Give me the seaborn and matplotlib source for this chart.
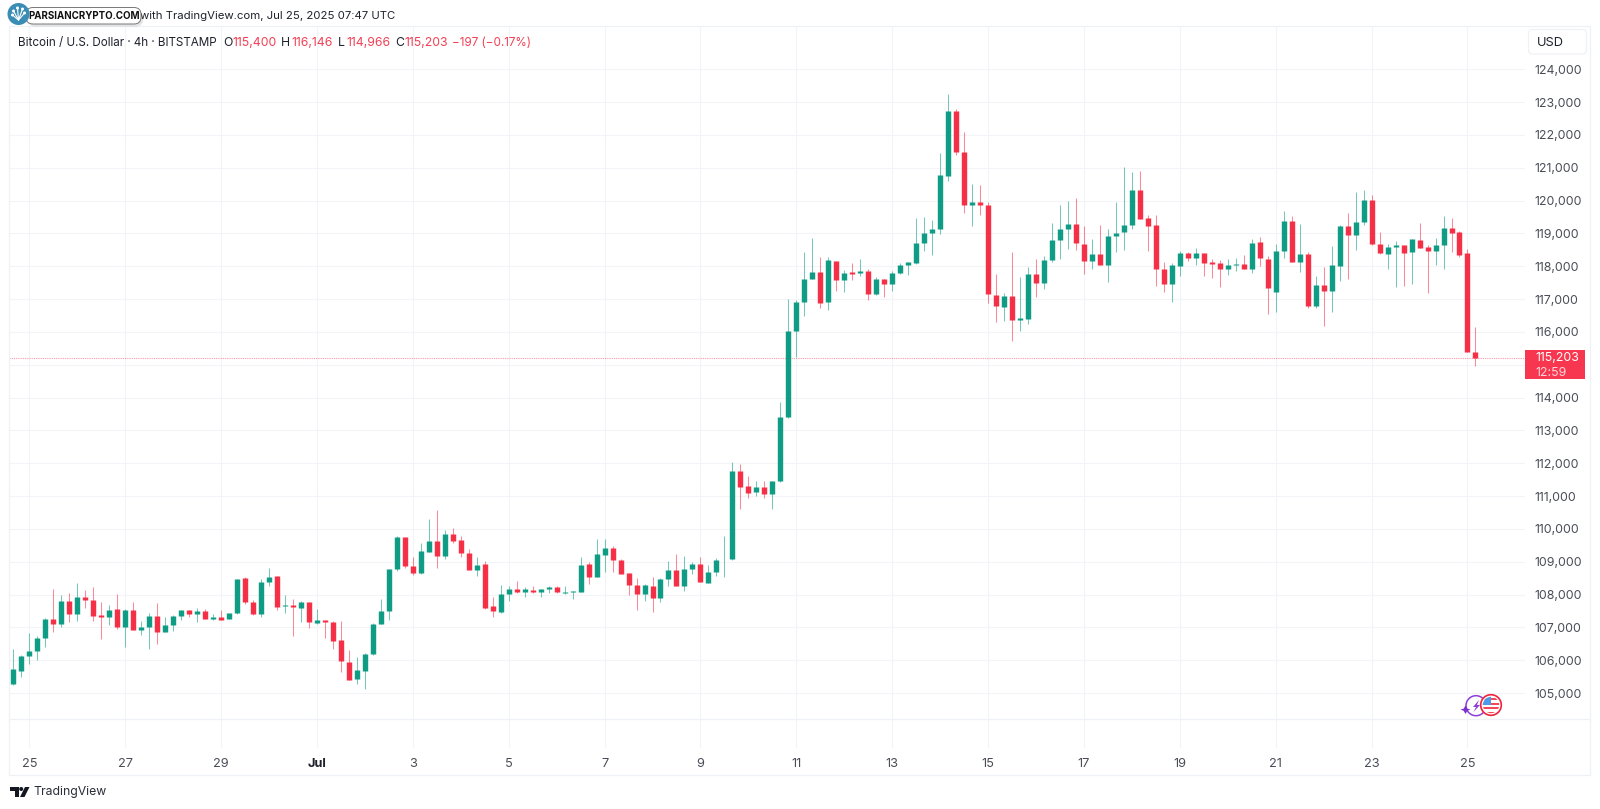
import numpy as np
import pandas as pd
import matplotlib
matplotlib.use("Agg")
import matplotlib.pyplot as plt
import matplotlib.dates as mdates
from matplotlib.patches import Circle, Rectangle, FancyBboxPatch, Polygon, Arc
import seaborn as sns

opens = [105284,105680,106127,106289,106665,107244,107091,107812,107406,107924,
107843,107365,107325,107548,107000,107518,106929,107010,107345,106858,
107081,107345,107518,107406,107487,107264,107325,107244,107426,108503,
107772,107406,108381,108564,107640,107670,107599,107772,107132,107213,
107173,106624,105944,105416,105670,106178,107102,107507,108767,109751,
108858,108645,109305,109630,109163,109853,109650,109274,108756,108929,
107660,107467,108005,108168,108066,108147,108086,108168,108239,108056,
108086,108086,108929,108543,109203,109416,109051,108655,108290,108015,
108269,107893,108472,108757,108259,108777,108939,108350,108686,109071,
109071,111772,111315,111112,111264,111052,111458,113397,116037,116910,
117600,117834,116910,118169,117580,117814,117783,117865,117143,117600,
117468,117794,118037,118098,118717,119002,119134,120758,122728,121489,
119875,119956,119855,117123,116768,117093,116362,116402,117763,117499,
118190,118799,119134,119296,118687,118169,118372,118037,118921,119032,
119266,120322,119458,119245,117905,117448,118017,118413,118250,118392,
118118,118088,117905,118047,118078,117926,118738,118210,117205,118454,
119388,118119,118372,116789,117428,117245,118007,119225,118961,119347,
120007,118677,118383,118596,118647,118444,118799,118575,118464,118636,
119154,119032,118393,115400]
closes = [105741,106127,106289,106665,107244,107091,107812,107406,107924,107843,
107355,107325,107528,107000,107518,106929,107010,107345,106858,107081,
107345,107518,107406,107487,107264,107325,107234,107426,108462,107772,
107416,108371,108523,107619,107670,107619,107772,107162,107223,107173,
106594,105975,105396,105701,106178,107102,107497,108777,109751,108858,
108655,109325,109630,109163,109853,109630,109274,108756,108909,107599,
107498,108015,108178,108076,108157,108086,108157,108239,108066,108076,
108107,108909,108543,109224,109416,109051,108635,108290,108015,108279,
107893,108482,108757,108259,108777,108939,108371,108696,109051,109092,
111762,111274,111102,111274,111051,111458,113417,116027,116910,117600,
117834,116890,118189,117580,117803,117773,117865,117154,117600,117458,
117803,118027,118118,118717,119002,119134,120768,122738,121489,119875,
119956,119875,117154,116788,117093,116362,116423,117763,117499,118190,
118799,119134,119296,118707,118169,118382,118037,118931,119002,119266,
120322,119428,119235,117926,117448,118037,118413,118250,118392,118108,
118067,117905,118047,118078,117926,118717,118250,117347,118454,119388,
118119,118372,116799,117428,117245,118037,119225,118961,119337,120007,
118667,118403,118596,118647,118413,118819,118545,118474,118647,119154,
119022,118332,115387,115203]
highs = [106330,106147,106817,106746,107274,108168,107975,108036,108340,108127,
108218,107761,107680,108015,107548,107761,107203,107426,107731,107305,
107365,107518,107518,107579,107548,107406,107528,107436,108482,108523,
107822,108472,108797,108564,107975,107873,107812,107772,107558,107233,
107193,107193,106310,106107,106208,107122,107863,108787,109792,109751,
109152,109579,110290,110574,109965,110036,109792,109376,109132,109020,
107934,108279,108269,108411,108239,108259,108178,108259,108259,108259,
108117,109132,108990,109701,109701,109467,109071,108655,108503,108310,
108523,108503,109031,109224,109163,109000,109132,108899,109102,109782,
112036,111975,111609,111457,111447,111458,113874,117000,116971,118433,
118849,118270,118270,118169,117885,118098,118220,117905,117661,117600,
117854,118098,118118,119459,119489,119408,121459,123235,122778,122098,
120504,120464,119956,117763,117174,118433,117672,117986,118210,118311,
119306,119865,119987,120078,119215,118819,119256,119124,119946,121012,
120870,120900,119560,119560,118129,118088,118453,118433,118545,118392,
118210,118190,118210,118251,118332,118819,118900,118312,118677,119672,
119530,119286,118433,117692,117976,118616,119245,119621,120251,120312,
120180,119053,118677,118768,118647,118819,119306,118636,118860,119530,
119459,119073,118515,116146]
lows = [105254,105497,105883,106005,106411,106858,107000,107162,107203,107599,
107203,106645,107071,106939,106411,106929,106766,106340,106503,106858,
106878,107223,107315,107152,107264,107213,107234,107244,107406,107711,
107365,107315,108259,107528,107447,106746,107173,106970,107102,106665,
106350,105650,105396,105274,105122,106168,107102,107223,108726,108797,
108594,108625,109305,108807,109071,109579,109152,108736,108574,107569,
107305,107447,107812,108056,107934,108036,107914,108036,108056,108015,
107853,108066,108320,108543,108685,108685,108614,107985,107518,107812,
107467,107762,108259,108259,108117,108625,108371,108350,108564,108523,
109051,110615,110929,110990,110929,110615,111438,113387,115245,116484,
117600,116738,116666,117245,117214,117580,117712,116981,117123,117072,
117255,117763,117733,118067,118453,118331,118981,120606,121377,119631,
119225,119570,116870,116291,116342,115733,116016,116240,117052,117296,
118139,118220,118535,118494,117763,117926,118037,117520,118443,118494,
119144,119428,118474,117398,117225,116920,117702,118159,118037,117712,
117651,117367,117733,117854,117926,117783,118017,116555,116606,118240,
118119,117834,116718,116718,116190,116616,117550,117621,118494,119256,
118636,118372,117905,117378,117398,117459,118545,117195,118037,117916,
118443,118271,115387,114966]

start_time = "2025-06-24 16:00"
price_ticks = list(range(105000, 125000, 1000))
hidden_price_label = 115000
date_ticks = ["2025-06-25","2025-06-27","2025-06-29","2025-07-01","2025-07-03","2025-07-05",
              "2025-07-07","2025-07-09","2025-07-11","2025-07-13","2025-07-15","2025-07-17",
              "2025-07-19","2025-07-21","2025-07-23","2025-07-25"]
date_labels = ["25","27","29","Jul","3","5","7","9","11","13","15","17","19","21","23","25"]
last_price = 115203

UP, DOWN = "#089981", "#F52A42"
GRID = "#F3F4F7"
FRAME = "#EFF1F6"
TICK = "#4A4D57"
DARK = "#1E222D"
RED_TXT = "#F23F55"

sns.set_theme(style="white")
plt.rcParams["font.family"] = ["Inter", "DejaVu Sans"]

W, H = 1600, 809
fig = plt.figure(figsize=(W / 100, H / 100), dpi=100, facecolor="white")
L, R, T, B = 9.0, 1525.0, 26.0, 748.0
ax = fig.add_axes([L / W, 1 - B / H, (R - L) / W, (B - T) / H])

times = pd.date_range(start_time, periods=len(opens), freq="4h")
candles = pd.DataFrame({"time": times, "open": opens, "high": highs, "low": lows, "close": closes})
candles["dir"] = np.where(candles["close"] >= candles["open"], "up", "down")
palette = {"up": UP, "down": DOWN}

wicks = candles.melt(id_vars=["time", "dir"], value_vars=["high", "low"], value_name="price")
bodies = candles.melt(id_vars=["time", "dir"], value_vars=["open", "close"], value_name="price")

sns.lineplot(data=wicks, x="time", y="price", hue="dir", units="time", estimator=None,
             palette=palette, legend=False, ax=ax, linewidth=0.75, alpha=0.55,
             solid_capstyle="butt", zorder=3)
sns.lineplot(data=bodies, x="time", y="price", hue="dir", units="time", estimator=None,
             palette=palette, legend=False, ax=ax, linewidth=3.9, alpha=0.97,
             solid_capstyle="butt", zorder=4)

# axis ranges: px = 13.3 + 7.99 * candle index, py = 693 - (price - 105000) * 0.03283
t0 = mdates.date2num(times[0])
px2t = lambda px: t0 + (px - 13.3) / 7.99 * (4 / 24)
py2p = lambda py: 105000 + (693 - py) / 0.03283
ax.set_xlim(px2t(L), px2t(R))
ax.set_ylim(py2p(B), py2p(T))

ax.set_xticks(mdates.date2num(pd.to_datetime(date_ticks)))
ax.set_xticklabels(date_labels, fontsize=9.2, color=TICK)
for lab, txt in zip(ax.get_xticklabels(), date_labels):
    if txt == "Jul":
        lab.set_fontweight("bold")
        lab.set_color(DARK)
ax.set_yticks(price_ticks)
ax.set_yticklabels(["" if v == hidden_price_label else f"{v:,}" for v in price_ticks],
                   fontsize=8.9, color=TICK)
ax.yaxis.tick_right()
ax.tick_params(axis="x", length=0, pad=7.2)
ax.tick_params(axis="y", length=0, pad=6.5)
ax.set_xlabel("")
ax.set_ylabel("")
ax.grid(True, color=GRID, linewidth=0.75, zorder=0)
ax.set_axisbelow(True)
for s in ax.spines.values():
    s.set_visible(False)
ax.patch.set_alpha(0)
ax.axhline(last_price, color="#F7374F", alpha=0.5, linewidth=0.8, linestyle=(0, (1, 1)), zorder=2)

# page overlay in pixel coordinates
ov = fig.add_axes([0, 0, 1, 1], zorder=5)
ov.set_xlim(0, W)
ov.set_ylim(H, 0)
ov.axis("off")
ov.patch.set_alpha(0)

ov.add_patch(Rectangle((9, 26), 1581, 749, fill=False, ec=FRAME, lw=0.9))
ov.plot([9, 1590], [718.5, 718.5], color=FRAME, lw=0.9)

# USD box
ov.add_patch(FancyBboxPatch((1528.5, 29.5), 58, 24.5, boxstyle="round,pad=0,rounding_size=4",
                            fc="white", ec=FRAME, lw=0.9))
ov.text(1537, 43, "USD", fontsize=9.2, color=DARK, va="center", ha="left")

# price box
ov.add_patch(Rectangle((1525, 349.5), 60, 29.5, fc="#F7374F", ec="none"))
ov.text(1535, 358, "115,203", fontsize=8.9, color="white", va="center", ha="left")
ov.text(1535, 372.5, "12:59", fontsize=8.9, color="#FFD3D9", va="center", ha="left")

# header
ov.text(395, 16, "with TradingView.com, Jul 25, 2025 07:47 UTC", fontsize=8.2, color=DARK,
        va="center", ha="right", zorder=3)
y_h = 43
ov.text(18, y_h, "Bitcoin / U.S. Dollar · 4h · BITSTAMP", fontsize=8.4, color=DARK, va="center")
for x, s, c, fs in [(223, "O", DARK, 8.8), (232, "115,400", RED_TXT, 8.8), (281, "H", DARK, 8.8),
                    (291, "116,146", RED_TXT, 8.8), (338, "L", DARK, 8.8), (346, "114,966", RED_TXT, 8.8),
                    (395, "C", DARK, 8.8), (404, "115,203", RED_TXT, 8.8), (452, "−197 (−0.17%)", RED_TXT, 8.4)]:
    ov.text(x, y_h, s, fontsize=fs, color=c, va="center")

# watermark pill sits above the published-on line
ov.add_patch(FancyBboxPatch((28, 10.5), 115, 16, boxstyle="round,pad=0,rounding_size=7",
                            fc="#000000", alpha=0.10, ec="none", zorder=4))
ov.add_patch(FancyBboxPatch((26, 7.5), 115, 16.5, boxstyle="round,pad=0,rounding_size=7",
                            fc="white", ec="#777777", lw=0.7, zorder=5))
ov.text(84.5, 16, "PARSIANCRYPTO.COM", fontsize=7.0, fontweight="bold", color="#111111",
        va="center", ha="center", zorder=6)
ov.add_patch(Circle((18.5, 14), 11, fc="#3B8DB5", ec="none", zorder=6))
for (dx, dy) in [(-5, -3), (-1, -6), (4, -5), (6, -1), (-6, 1)]:
    ov.add_patch(Circle((18.5 + dx, 14 + dy), 1.5, fc="white", ec="none", zorder=7))
    ov.plot([18.5, 18.5 + dx], [20, 14 + dy], color="white", lw=0.8, zorder=7)

# TradingView footer
ov.add_patch(Polygon([(9.5, 787), (19, 787), (19, 797), (14.5, 797), (14.5, 791), (9.5, 791)], fc="#131722", ec="none"))
ov.add_patch(Circle((21.2, 789), 2, fc="#131722", ec="none"))
ov.add_patch(Polygon([(25, 787), (29.5, 787), (24.5, 797), (20, 797)], fc="#131722", ec="none"))
ov.text(33, 792.5, "TradingView", fontsize=8.8, color="#2A2E39", va="center", ha="left")

# event icons
ov.add_patch(Arc((1476, 705.7), 20, 20, theta1=0, theta2=360, ec="#8E3FD6", lw=1.1))
ov.add_patch(Polygon([(1465.5, 705.5), (1467.3, 708.6), (1470.5, 709.6), (1467.3, 710.8),
                      (1465.5, 714), (1463.7, 710.8), (1460.5, 709.6), (1463.7, 708.6)], fc="#7B2FD0", ec="none"))
ov.add_patch(Polygon([(1479, 700), (1473, 707), (1476, 707), (1473.5, 712), (1480, 705), (1477, 705)], fc="#8E3FD6", ec="none"))
ov.add_patch(Circle((1491, 705), 10.3, fc="white", ec="#F0223C", lw=1.2))
clip = Circle((1491, 705), 8.2, transform=ov.transData)
for yy in (698, 702.5, 707, 711.5):
    r = ov.add_patch(Rectangle((1482, yy), 18, 2.4, fc="#F2485A", ec="none"))
    r.set_clip_path(clip)
r = ov.add_patch(Rectangle((1482, 696), 9, 9, fc="#4D9BE8", ec="none"))
r.set_clip_path(clip)

fig.savefig("out.png", dpi=100, facecolor="white")
